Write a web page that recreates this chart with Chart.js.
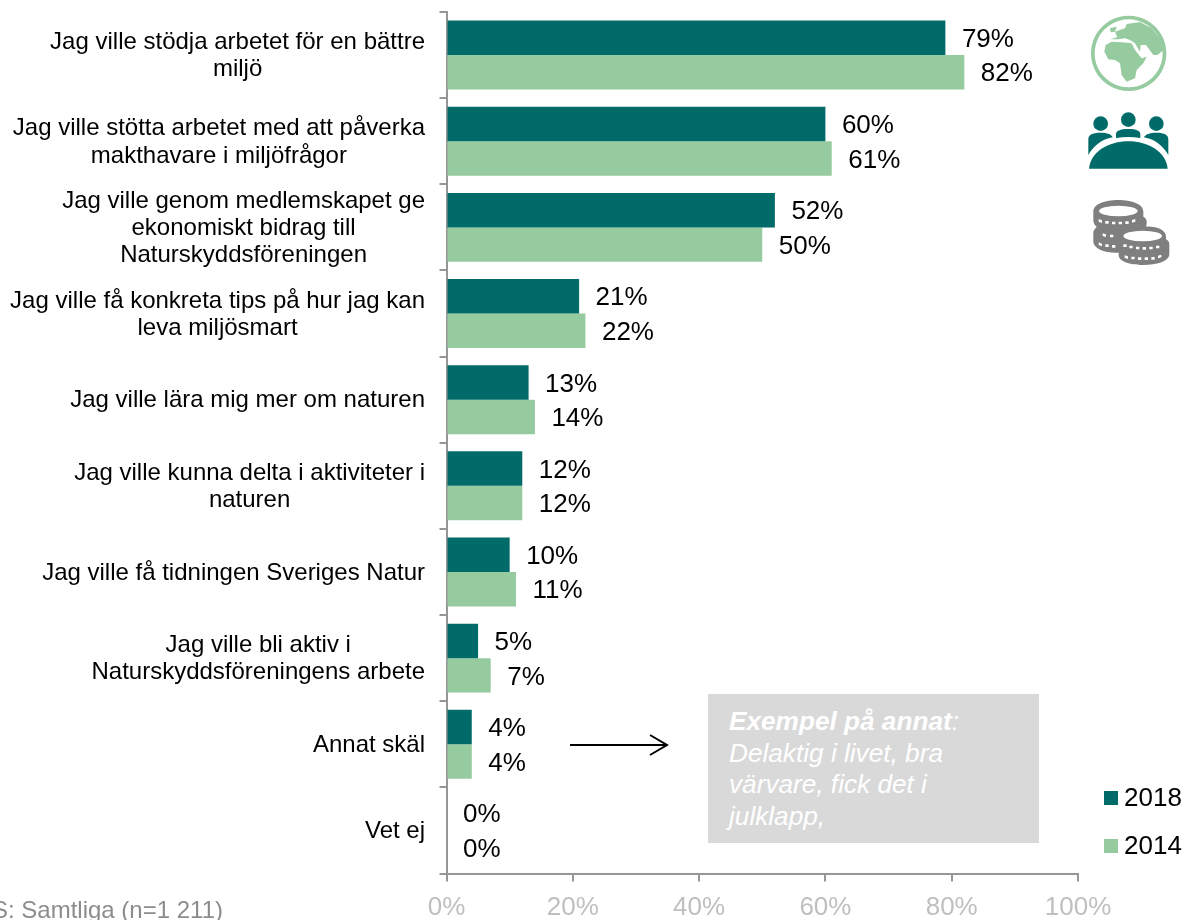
<!DOCTYPE html>
<html><head><meta charset="utf-8">
<style>
html,body{margin:0;padding:0;background:#fff;width:1183px;height:920px;overflow:hidden}
#wrap{position:relative;width:1183px;height:920px;overflow:hidden}
canvas{position:absolute;left:0;top:0}
svg{position:absolute;left:0;top:0}
#note{position:absolute;left:708px;top:694px;width:331px;height:149px;background:#d9d9d9;color:#fff;font:italic 26.2px/31.7px "Liberation Sans",Arial,sans-serif;box-sizing:border-box;padding:12px 0 0 21px}
#note b{font-weight:bold}
#base{position:absolute;right:960px;top:896px;white-space:nowrap;color:#8c8c8c;font:24px "Liberation Sans",Arial,sans-serif}
</style>
<script src="https://cdn.jsdelivr.net/npm/chart.js@4"></script>
</head><body><div id="wrap">
<canvas id="c" width="1183" height="920"></canvas>
<div id="base">BAS: Samtliga (n=1 211)</div>
<div id="note"><b>Exempel på annat</b>:<br>Delaktig i livet, bra<br>värvare, fick det i<br>julklapp,</div>
<svg width="1183" height="920" viewBox="0 0 1183 920">
 <g stroke="#000" stroke-width="2" fill="none"><path d="M570 745H666"/><path d="M650 735L667 745L650 755"/></g>
 <g transform="translate(1060 0) scale(.3333)">
  <g fill="#95cb9f">
   <path fill-rule="evenodd" d="M206 47a113 113 0 1 0 .01 0ZM206 58a102 102 0 1 1 -.01 0Z"/>
   <path d="M133 155L137 135L155 125L185 127L215 130L225 150L245 175L260 170L250 190L230 210L225 235L200 245L185 225L180 190L165 180L145 178Z"/>
   <path d="M150 118L172 112L165 95L195 85L200 72L240 66L275 85L300 115L311 150L292 165L280 165L258 135L242 135L240 155L225 130L210 120L195 115L175 118Z"/>
   <path d="M150 85L170 80L165 95L152 97Z"/>
  </g>
  <g fill="#006b68">
   <circle cx="122" cy="371" r="22"/><circle cx="205" cy="359" r="22"/><circle cx="289" cy="371" r="22"/>
   <path d="M85 465V418C85 405 95 398 122 398C142 398 155 403 158 412C125 418 100 438 85 465Z"/>
   <path d="M168 414V402C168 393 180 387 205 387C230 387 241 393 241 402V414C218 410 192 410 168 414Z"/>
   <path d="M325 465V418C325 405 315 398 289 398C269 398 256 403 252 412C285 418 310 438 325 465Z"/>
   <path d="M87 506C92 455 145 424 205 424C265 424 318 455 323 506Z"/>
  </g>
  <g fill="#7f7f7f">
   <path d="M100 635C100 612 135 600 175 600C215 600 250 612 250 635V650C262 655 262 670 258 680C290 678 318 690 318 710V718C325 722 328 725 328 735V765C325 785 290 795 250 795C210 795 176 785 176 765V758C135 760 100 745 100 725V695C103 688 106 685 110 680C103 675 100 668 100 660Z"/>
   <g fill="#fff">
    <ellipse cx="175" cy="633" rx="58" ry="16"/><ellipse cx="248" cy="708" rx="58" ry="16"/>
    <path d="M116 657l10 4v8l-10-4ZM136 663h10v8h-10ZM156 665h10v8h-10ZM176 665h10v8h-10ZM196 664h10v8h-10ZM216 660l10-3v8l-10 3ZM128 700l10 3v8l-10-3ZM150 704h10v8h-10ZM116 727l10 4v8l-10-4ZM136 733h10v8h-10ZM156 735h10v8h-10ZM190 733h10v8h-10ZM208 737h10v8h-10ZM228 740h10v8h-10ZM248 741h10v8h-10ZM268 740h10v8h-10ZM288 737h10v8h-10ZM194 766l10 3v8l-10-3ZM214 770h10v8h-10ZM234 772h10v8h-10ZM254 772h10v8h-10ZM274 771h10v8h-10ZM294 767l10-3v8l-10 3Z"/>
   </g>
  </g>
 </g>
</svg>
</div>
<script>
const categories = [
 ["Jag ville stödja arbetet för en bättre","miljö"],
 ["Jag ville stötta arbetet med att påverka","makthavare i miljöfrågor"],
 ["Jag ville genom medlemskapet ge","ekonomiskt bidrag till","Naturskyddsföreningen"],
 ["Jag ville få konkreta tips på hur jag kan","leva miljösmart"],
 ["Jag ville lära mig mer om naturen"],
 ["Jag ville kunna delta i aktiviteter i","naturen"],
 ["Jag ville få tidningen Sveriges Natur"],
 ["Jag ville bli aktiv i","Naturskyddsföreningens arbete"],
 ["Annat skäl"],
 ["Vet ej"]
];
const values2018 = [79,60,52,21,13,12,10,5,4,0];
const values2014 = [82,61,50,22,14,12,11,7,4,0];
const seriesNames = ["2018","2014"];
const seriesColors = ["#006b68","#95cb9f"];
const FONT = '"Liberation Sans", Arial, sans-serif';

const overlay = {
 id:'overlay',
 afterDatasetsDraw(chart){
  const {ctx,scales:{x,y}} = chart;
  ctx.save();
  ctx.font = '26px '+FONT; ctx.fillStyle='#000'; ctx.textBaseline='middle'; ctx.textAlign='left';
  chart.data.datasets.forEach((ds,i)=>{
   chart.getDatasetMeta(i).data.forEach((bar,j)=>{
    ctx.fillText(ds.data[j]+'%', bar.x+16.5, bar.y+2);
   });
  });
  ctx.font = '24px '+FONT; ctx.textAlign='center';
  const right = 425, lh = 27.3;
  chart.data.labels.forEach((lines,i)=>{
   const w = Math.max(...lines.map(l=>ctx.measureText(l).width));
   const cy = y.getPixelForTick(i);
   lines.forEach((l,k)=>ctx.fillText(l, right-w/2, cy+1+(k-(lines.length-1)/2)*lh));
  });
  const ly=[798,846];
  chart.data.datasets.forEach((ds,i)=>{
   ctx.fillStyle=ds.backgroundColor; ctx.fillRect(1104,ly[i]-7,14,14);
   ctx.fillStyle='#000'; ctx.font='26px '+FONT; ctx.textAlign='left';
   ctx.fillText(ds.label,1124,ly[i]+1);
  });
  ctx.restore();
 }
};

new Chart(document.getElementById('c'),{
 type:'bar',
 data:{labels:categories,datasets:[
  {label:seriesNames[0],data:values2018,backgroundColor:seriesColors[0]},
  {label:seriesNames[1],data:values2014,backgroundColor:seriesColors[1]}
 ]},
 plugins:[overlay],
 options:{
  indexAxis:'y',responsive:false,animation:false,devicePixelRatio:1,
  layout:{padding:{left:0,top:12,right:105,bottom:0}},
  plugins:{legend:{display:false},tooltip:{enabled:false},title:{display:false}},
  datasets:{bar:{categoryPercentage:0.8,barPercentage:1}},
  scales:{
   x:{min:0,max:100,
    ticks:{stepSize:20,callback:v=>v+'%',color:'#bfbfbf',font:{family:FONT,size:26},maxRotation:0,padding:11},
    grid:{drawOnChartArea:false,drawTicks:true,tickLength:8,color:'#969696',lineWidth:2},
    border:{color:'#969696',width:2},
    afterFit(s){s.height=46.5}},
   y:{
    ticks:{display:false},
    grid:{drawOnChartArea:false,drawTicks:true,tickLength:7,color:'#969696',lineWidth:2,offset:true},
    border:{color:'#969696',width:2},
    afterFit(s){s.width=446.5}}
  }
 }
});
</script>
</body></html>
